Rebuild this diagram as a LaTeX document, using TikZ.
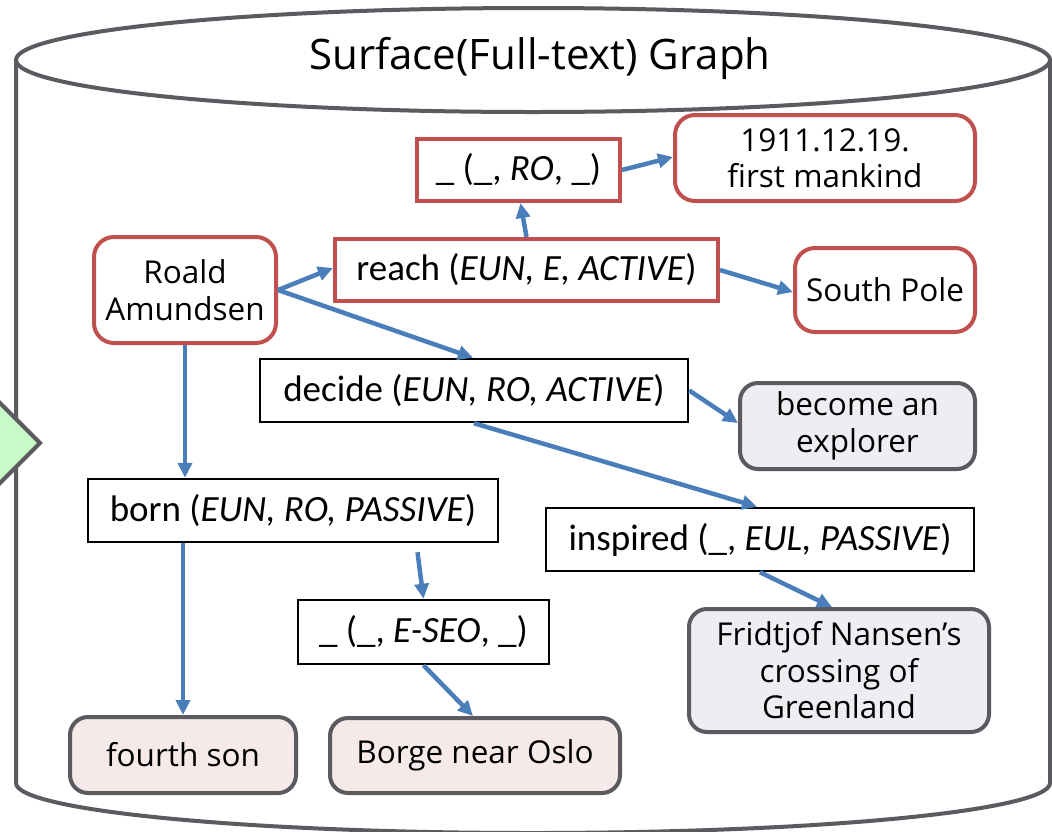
\documentclass[tikz,border=0pt]{standalone}
\usepackage{fontspec}
\setmainfont{Open Sans}
\newfontfamily\calfont{Carlito}
\usetikzlibrary{arrows.meta,calc}

\definecolor{edgegray}{HTML}{5A5A60}
\definecolor{boxred}{HTML}{C0504D}
\definecolor{arrowblue}{HTML}{4A7EBB}
\definecolor{pinkfill}{HTML}{F5E9E9}
\definecolor{lilacfill}{HTML}{EFEDF2}
\definecolor{greenfill}{HTML}{C8FAC8}

\tikzset{
  conn/.style={draw=arrowblue, line width=4.5pt, -{Triangle[length=15pt,width=14pt]}},
  relbox/.style={draw=black, line width=2.5pt, fill=white, inner sep=0pt,
    font=\calfont\fontsize{37}{42}\selectfont},
  keyrel/.style={relbox, draw=boxred, line width=4pt},
  ent/.style={draw=boxred, line width=4pt, rounded corners=20pt, fill=white,
    inner sep=0pt, align=center, font=\fontsize{31.5}{36.5}\selectfont},
  leafA/.style={ent, draw=edgegray, fill=pinkfill, rounded corners=18pt},
  leafB/.style={ent, draw=edgegray, fill=lilacfill, rounded corners=18pt},
}

\begin{document}
\begin{tikzpicture}[x=1pt,y=-1pt]
\useasboundingbox (0,0) rectangle (1052,831);
\clip (0,0) rectangle (1052,831);

% storage cylinder
\draw[edgegray, line width=4pt, fill=white]
  (16,60) -- (16,783) arc[start angle=180, end angle=0, x radius=517, y radius=50]
  -- (1050,60);
\draw[edgegray, line width=4pt, fill=white] (533,60) ellipse[x radius=517, y radius=52];
\node (title) at (540,58) {\fontsize{42}{48}\selectfont Surface(Full-text) Graph};

% marker on the left wall
\draw[edgegray, line width=4pt, fill=greenfill]
  (40,443) -- (-5,398) -- (-50,443) -- (-5,488) -- cycle;

% entities and relations
\node[ent, minimum width=182pt, minimum height=106pt] (roald) at (185,290) {Roald\\Amundsen};
\node[keyrel, minimum width=383pt, minimum height=62pt] (reach) at (526.5,270)
  {reach (\textit{EUN, E, ACTIVE})};
\node[keyrel, minimum width=203pt, minimum height=62pt] (ro) at (518.5,170)
  {\_ (\_, \textit{RO}, \_)};
\node[ent, minimum width=300pt, minimum height=86pt] (date) at (825,158)
  {1911.12.19.\\first mankind};
\node[ent, minimum width=180pt, minimum height=84pt] (south) at (885,290) {South Pole};
\node[relbox, minimum width=428pt, minimum height=63pt] (decide) at (474,390.5)
  {decide (\textit{EUN, RO, ACTIVE})};
\node[leafB, minimum width=235pt, minimum height=86pt] (become) at (857.5,426)
  {become an\\explorer};
\node[relbox, minimum width=410pt, minimum height=63pt] (born) at (293,510.5)
  {born (\textit{EUN, RO, PASSIVE})};
\node[relbox, minimum width=428pt, minimum height=63pt] (inspired) at (760,539.5)
  {inspired (\_, \textit{EUL, PASSIVE})};
\node[relbox, minimum width=251pt, minimum height=64pt] (eseo) at (423.5,632)
  {\_ (\_, \textit{E-SEO}, \_)};
\node[leafB, minimum width=300pt, minimum height=123pt] (nansen) at (839,670.5)
  {Fridtjof Nansen’s\\crossing of\\Greenland};
\node[leafA, minimum width=226pt, minimum height=76pt] (fourth) at (183,755) {fourth son};
\node[leafA, minimum width=290pt, minimum height=75pt] (borge) at (475,755.5) {Borge near Oslo};

% connectors
\draw[conn] (roald.east) -- ([yshift=2pt]reach.west);
\draw[conn] (roald.east) -- ([xshift=-1pt]decide.north);
\draw[conn] (reach.north) -- ([xshift=2pt]ro.south);
\draw[conn] (ro.east) -- ([yshift=1pt]date.west);
\draw[conn] (reach.east) -- ([yshift=-2pt]south.west);
\draw[conn] (decide.east) -- ([yshift=3pt]become.west);
\draw[conn] (decide.south) -- ([xshift=-3pt]inspired.north);
\draw[conn] (roald.south) -- (roald.south |- born.north);
\draw[conn] (fourth.north |- born.south) -- (fourth.north);
\draw[conn] ($(born.south -| eseo.north)+(-6,9)$) -- (eseo.north);
\draw[conn] (eseo.south) -- ([xshift=-2pt]borge.north);
\draw[conn] (inspired.south) -- ([xshift=-7pt]nansen.north);
\end{tikzpicture}
\end{document}
